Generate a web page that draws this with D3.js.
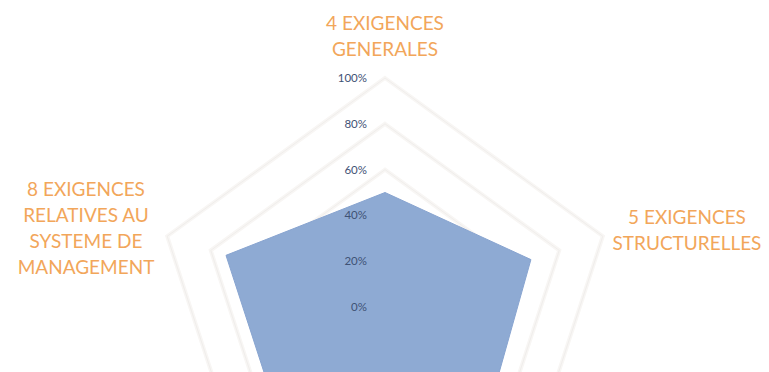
<!DOCTYPE html>
<html>
<head>
<meta charset="utf-8">
<script src="https://cdn.jsdelivr.net/npm/d3@7"></script>
<style>
  html, body { margin: 0; padding: 0; background: #fff; }
  svg { display: block; }
</style>
</head>
<body>
<div id="chart"></div>
<script>
// categories clockwise from the top (ISO 17025 chapters)
var categories = [
  ["4 EXIGENCES", "GENERALES"],
  ["5 EXIGENCES", "STRUCTURELLES"],
  ["6 EXIGENCES", "RELATIVES AUX", "RESSOURCES"],
  ["7 EXIGENCES", "RELATIVES AU", "PROCESSUS"],
  ["8 EXIGENCES", "RELATIVES AU", "SYSTEME DE", "MANAGEMENT"]
];
var values = [0.50, 0.67, 0.71, 0.73, 0.73];
var ticks = [0, 0.2, 0.4, 0.6, 0.8, 1.0];

var width = 769, height = 372;
var cx = 385, cy = 307, R = 229;

var svg = d3.select("#chart").append("svg")
  .attr("width", width)
  .attr("height", height);

var g = svg.append("g").attr("transform", "translate(" + cx + "," + cy + ")");

var r = d3.scaleLinear().domain([0, 1]).range([0, R]);
var angle = d3.scaleLinear().domain([0, categories.length]).range([0, 2 * Math.PI]);

// grid pentagons
var radial = d3.lineRadial()
  .angle(function (d, i) { return angle(i); })
  .radius(function (d) { return r(d); })
  .curve(d3.curveLinearClosed);

ticks.slice(1).forEach(function (t) {
  var ring = categories.map(function () { return t; });
  g.append("path")
    .attr("d", radial(ring))
    .attr("fill", "none")
    .attr("stroke", "#f8f6f4")
    .attr("stroke-width", 4);
  g.append("path")
    .attr("d", radial(ring))
    .attr("fill", "none")
    .attr("stroke", "#f0eeec")
    .attr("stroke-width", 1);
});

// series area
g.append("path")
  .attr("d", radial(values))
  .attr("fill", "#8eaad3")
  .attr("stroke", "#88a4d0")
  .attr("stroke-width", 1);

// tick labels
g.selectAll("text.tick")
  .data(ticks)
  .enter()
  .append("text")
  .attr("class", "tick")
  .attr("x", -18)
  .attr("y", function (d) { return -r(d); })
  .attr("dy", "0.35em")
  .attr("text-anchor", "end")
  .attr("font-family", "Lato, 'Open Sans', sans-serif")
  .attr("font-size", 11.5)
  .attr("fill", "#3f5275")
  .text(d3.format(".0%"));

// category labels (the two bottom ones fall below the visible area)
var labelPos = [
  { x: 0, y: -284 },
  { x: 302, y: -90 },
  { x: 170, y: 215 },
  { x: -170, y: 215 },
  { x: -299, y: -118 }
];
var lineH = 26;

categories.forEach(function (lines, i) {
  var p = labelPos[i];
  if (cy + p.y > height) return;
  var t = g.append("text")
    .attr("text-anchor", "middle")
    .attr("font-family", "Lato, 'Open Sans', sans-serif")
    .attr("font-size", 19)
    .attr("fill", "#f2a65a");
  lines.forEach(function (s, k) {
    t.append("tspan")
      .attr("x", p.x)
      .attr("y", p.y + k * lineH)
      .attr("dy", "0.35em")
      .text(s);
  });
});
</script>
</body>
</html>
